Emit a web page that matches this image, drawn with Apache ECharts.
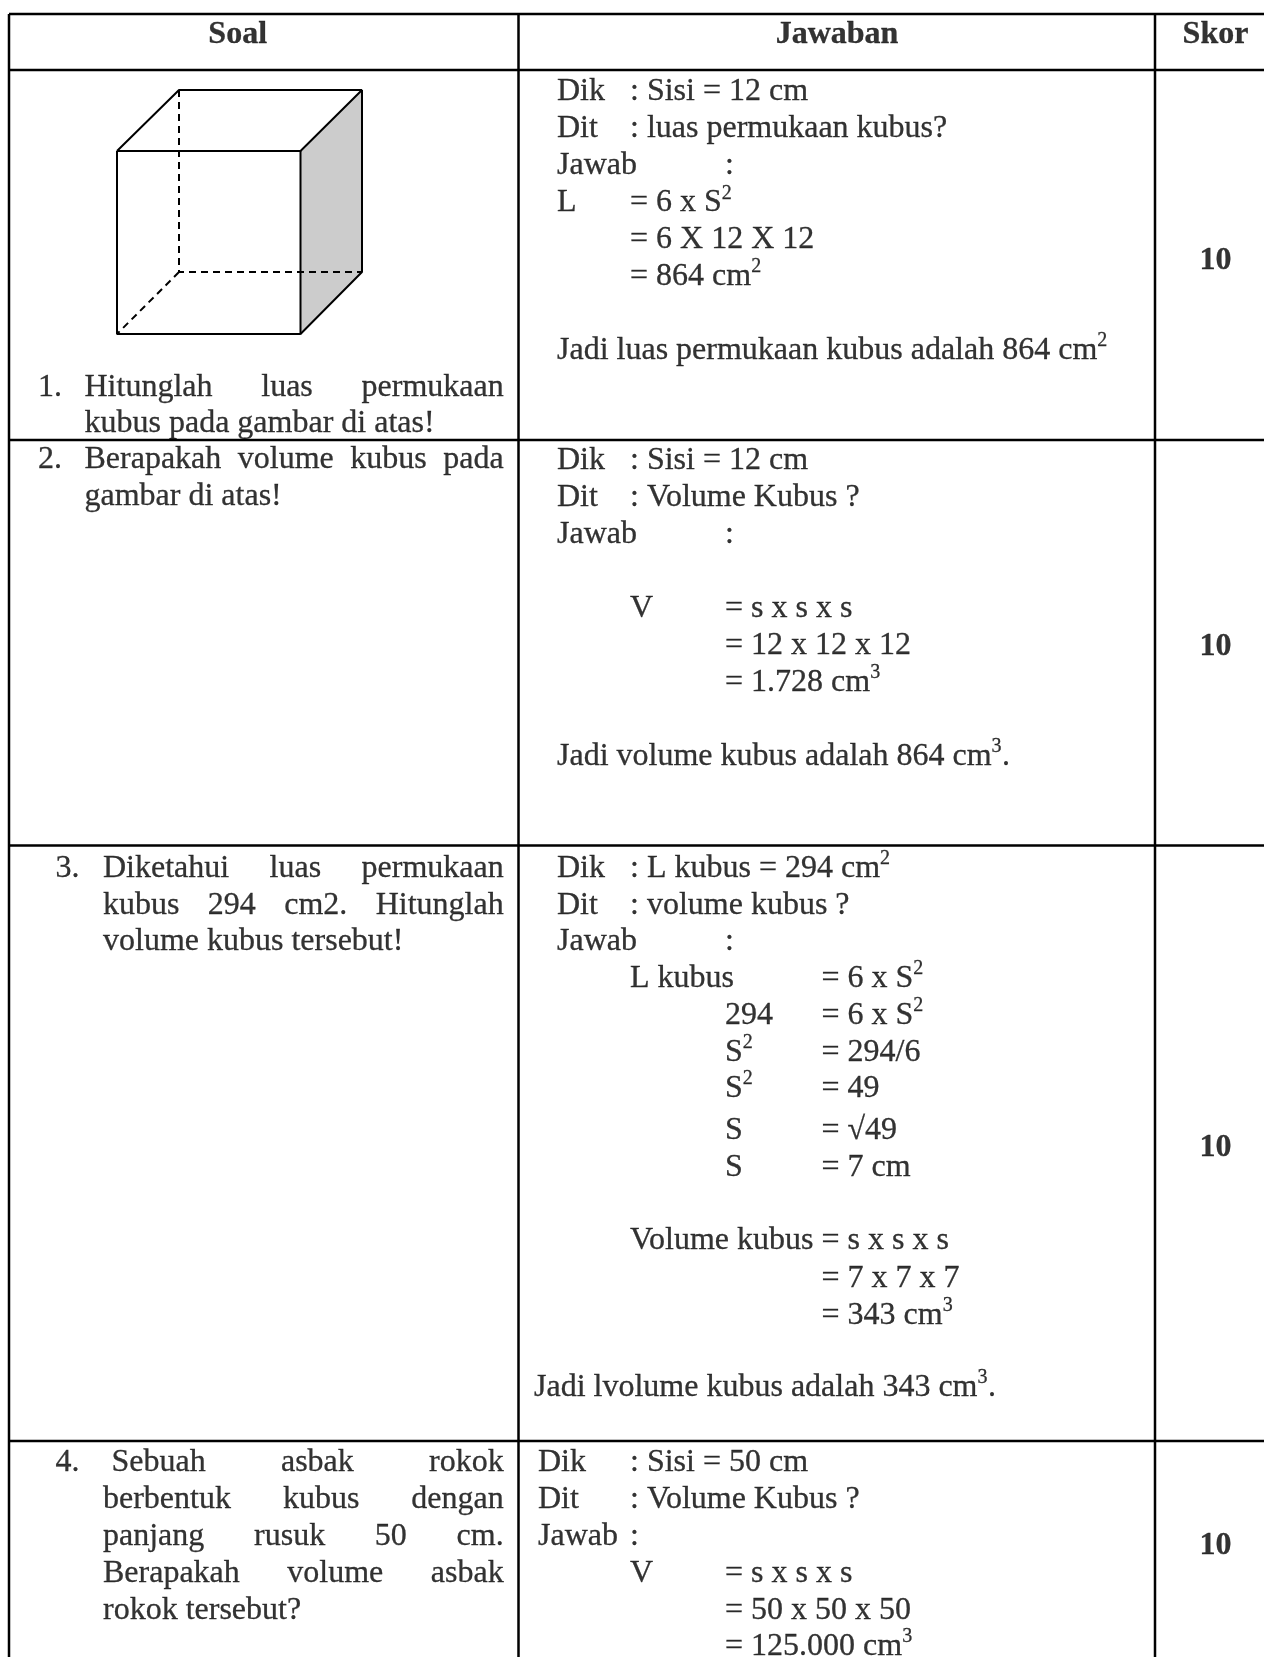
<!DOCTYPE html>
<html>
<head>
<meta charset="utf-8">
<style>
  html, body { margin: 0; padding: 0; background: #fff; }
  #main { width: 1264px; height: 1657px; }
</style>
</head>
<body>
<div id="main"></div>
<script src="https://cdn.jsdelivr.net/npm/echarts@6/dist/echarts.min.js"></script>
<script>
// judul kolom dan skor
const headers = ['Soal', 'Jawaban', 'Skor']
const scores = ['10', '10', '10', '10']

// soal: nomor + baris teks (baris terakhir tiap soal tidak rata kanan-kiri)
const soalNumbers = ['1.', '2.', '3.', '4.']
const soal1 = ['Hitunglah luas permukaan', 'kubus pada gambar di atas!']
const soal2 = ['Berapakah volume kubus pada', 'gambar di atas!']
const soal3 = ['Diketahui luas permukaan', 'kubus 294 cm2. Hitunglah', 'volume kubus tersebut!']
const soal4 = ['Sebuah asbak rokok', 'berbentuk kubus dengan', 'panjang rusuk 50 cm.', 'Berapakah volume asbak', 'rokok tersebut?']

// jawaban: \t = pindah ke tab stop berikutnya, ^ = pangkat
const jawab1 = ['Dik\t: Sisi = 12 cm', 'Dit\t: luas permukaan kubus?', 'Jawab\t\t:', 'L\t= 6 x S^2', '\t= 6 X 12 X 12', '\t= 864 cm^2', 'Jadi luas permukaan kubus adalah 864 cm^2']
const jawab2 = ['Dik\t: Sisi = 12 cm', 'Dit\t: Volume Kubus ?', 'Jawab\t\t:', '\tV\t= s x s x s', '\t\t= 12 x 12 x 12', '\t\t= 1.728 cm^3', 'Jadi volume kubus adalah 864 cm^3.']
const jawab3 = ['Dik\t: L kubus = 294 cm^2', 'Dit\t: volume kubus ?', 'Jawab\t\t:', '\tL kubus\t\t= 6 x S^2', '\t\t294\t= 6 x S^2', '\t\tS^2\t= 294/6', '\t\tS^2\t= 49', '\t\tS\t= √49', '\t\tS\t= 7 cm', '\tVolume kubus\t\t= s x s x s', '\t\t\t= 7 x 7 x 7', '\t\t\t= 343 cm^3']
const jawab3Akhir = ['Jadi lvolume kubus adalah 343 cm^3.']
const jawab4 = ['Dik\t: Sisi = 50 cm', 'Dit\t: Volume Kubus ?', 'Jawab\t:', '\tV\t= s x s x s', '\t\t= 50 x 50 x 50', '\t\t= 125.000 cm^3']

// garis tabel (satuan sumbu = piksel gambar)
const rowLines = [14, 70, 440, 845.5, 1441]
const colLines = [9, 518.5, 1155]

// kubus
const cubeFront = [[117, 151], [300.5, 151], [300.5, 334], [117, 334], [117, 151]]
const cubeTop = [[117, 151], [179, 90], [362, 90], [300.5, 151]]
const cubeRight = [[362, 90], [362, 272], [300.5, 334]]
const cubeShade = [[300.5, 151], [362, 90], [362, 272], [300.5, 334]]
const cubeHidden = [[179, 90], [179, 272], [362, 272]]
const cubeHidden2 = [[179, 272], [117, 334]]

// posisi teks
const headerX = [237.7, 837, 1215.5]
const headerY = 41.5
const scoreY = [267, 653, 1154, 1552]
const soalNumberX = [38, 38, 55.5, 55.5]
const soalLeft = [84.5, 84.5, 103, 103]
const soalFirstLeft = [84.5, 84.5, 103, 111.5]
const soalRight = 503.7
const soalY = [[394, 430], [466.5, 503.5], [875, 912, 948], [1469, 1506, 1543, 1580, 1617]]
const jawabTabs1 = [557, 630, 725]
const jawabTabs3 = [557, 630, 725, 821.5]
const jawabTabs3Akhir = [534]
const jawabTabs4 = [538, 630, 725]
const jawabY1 = [98.5, 135, 172, 209.5, 246, 283, 357]
const jawabY2 = [467, 504, 541.5, 615, 652, 689, 763]
const jawabY3 = [875, 912, 948, 985, 1022, 1059, 1095, 1137, 1174, 1247, 1285, 1322]
const jawabY3Akhir = [1394]
const jawabY4 = [1469, 1506, 1543, 1580, 1617, 1653]

const fontFamily = '"Liberation Serif", "Times New Roman", serif'
const fontSize = 32
const supSize = 20
const centerShift = 6.5 // jarak garis dasar ke tengah label
const supShift = 16

const ctx = document.createElement('canvas').getContext('2d')
function textWidth(text, weight) {
  ctx.font = (weight || 'normal') + ' ' + fontSize + 'px ' + fontFamily
  return ctx.measureText(text).width
}

const normalText = []
const supText = []
const boldText = []

// taruh satu potongan teks, pangkat digeser naik
function putText(text, x, baseline) {
  const parts = text.split('^')
  let cursor = x
  parts.forEach((part, i) => {
    let rest = part
    if (i > 0) {
      supText.push([cursor, baseline - supShift, part[0]])
      cursor += 10.5
      rest = part.slice(1)
    }
    if (rest) {
      normalText.push([cursor, baseline - centerShift, rest])
      cursor += textWidth(rest)
    }
  })
}

function putJawab(lines, tabs, ys) {
  lines.forEach((line, i) => {
    line.split('\t').forEach((piece, j) => {
      if (piece) putText(piece, tabs[j], ys[i])
    })
  })
}

// baris rata kanan-kiri: jarak antar kata dibagi sama
function putJustified(line, left, right, baseline) {
  const words = line.split(' ')
  const total = words.reduce((sum, w) => sum + textWidth(w), 0)
  const gap = words.length > 1 ? (right - left - total) / (words.length - 1) : 0
  let cursor = left
  words.forEach(w => {
    putText(w, cursor, baseline)
    cursor += textWidth(w) + gap
  })
}

;[soal1, soal2, soal3, soal4].forEach((lines, k) => {
  putText(soalNumbers[k], soalNumberX[k], soalY[k][0])
  lines.forEach((line, i) => {
    const left = i === 0 ? soalFirstLeft[k] : soalLeft[k]
    if (i < lines.length - 1) putJustified(line, left, soalRight, soalY[k][i])
    else putText(line, left, soalY[k][i])
  })
})

putJawab(jawab1, jawabTabs1, jawabY1)
putJawab(jawab2, jawabTabs1, jawabY2)
putJawab(jawab3, jawabTabs3, jawabY3)
putJawab(jawab3Akhir, jawabTabs3Akhir, jawabY3Akhir)
putJawab(jawab4, jawabTabs4, jawabY4)

headers.forEach((h, i) => boldText.push([headerX[i], headerY - centerShift, h]))
scores.forEach((s, i) => boldText.push([headerX[2], scoreY[i] - centerShift, s]))

// garis tabel, null = putus
const pageBottom = 1657
const pageRight = 1264
const tableLines = []
rowLines.forEach(y => tableLines.push([colLines[0], y], [pageRight, y], null))
colLines.forEach(x => tableLines.push([x, rowLines[0]], [x, pageBottom], null))

function lineSeries(data, width, type) {
  return {
    type: 'line',
    data: data,
    showSymbol: false,
    silent: true,
    z: 3,
    lineStyle: { color: '#000', width: width, type: type || 'solid' }
  }
}

function labelSeries(data, size, weight, align) {
  return {
    type: 'scatter',
    data: data,
    symbolSize: 0,
    silent: true,
    z: 5,
    label: {
      show: true,
      position: align === 'center' ? 'inside' : 'right',
      distance: 0,
      formatter: p => p.data[2],
      color: '#000',
      textBorderColor: '#000',
      textBorderWidth: 0.3,
      fontFamily: fontFamily,
      fontSize: size,
      fontWeight: weight
    },
    labelLayout: { hideOverlap: false }
  }
}

const chart = echarts.init(document.getElementById('main'), null, { renderer: 'canvas' })
chart.setOption({
  animation: false,
  backgroundColor: '#fff',
  grid: { left: 0, right: 0, top: 0, bottom: 0 },
  xAxis: { type: 'value', min: 0, max: pageRight, show: false },
  yAxis: { type: 'value', min: 0, max: pageBottom, inverse: true, show: false },
  series: [
    {
      type: 'custom',
      silent: true,
      z: 1,
      data: [0],
      renderItem: (params, api) => ({
        type: 'polygon',
        shape: { points: cubeShade.map(p => api.coord(p)) },
        style: { fill: '#cccccc' }
      })
    },
    lineSeries(tableLines, 2.5),
    lineSeries(cubeFront, 2),
    lineSeries(cubeTop, 2),
    lineSeries(cubeRight, 2),
    lineSeries(cubeHidden, 2, [7, 5]),
    lineSeries(cubeHidden2, 2, [7, 5]),
    labelSeries(normalText, fontSize, 'normal'),
    labelSeries(supText, supSize, 'normal'),
    labelSeries(boldText, fontSize, 'bold', 'center')
  ]
})
</script>
</body>
</html>
